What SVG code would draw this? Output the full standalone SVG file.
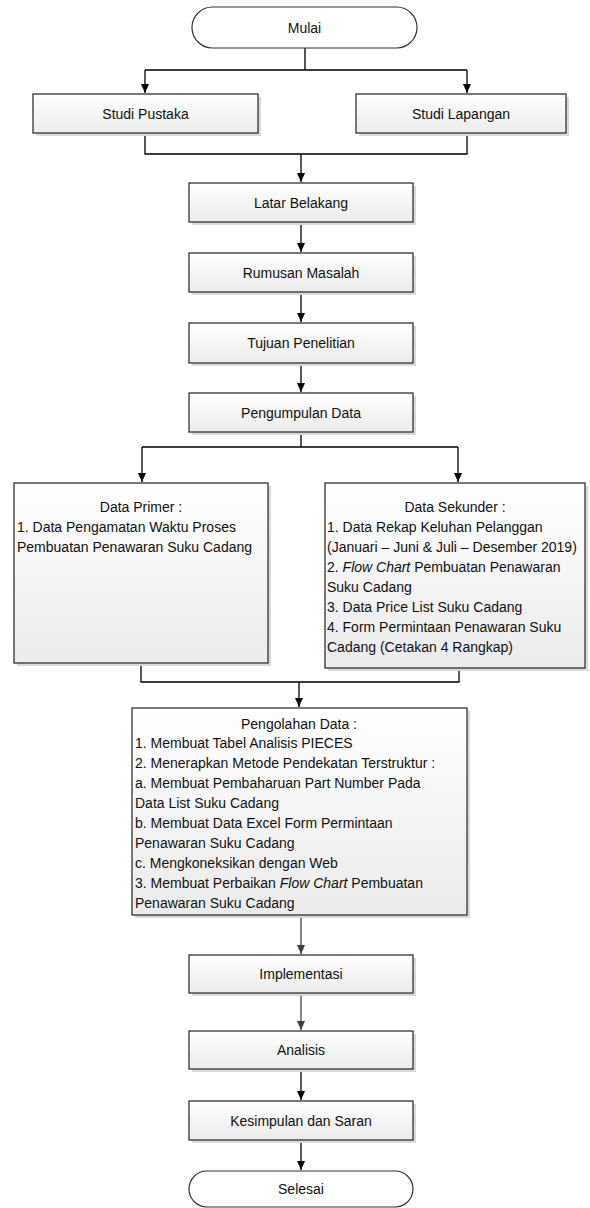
<svg xmlns="http://www.w3.org/2000/svg" width="590" height="1208" viewBox="0 0 590 1208">
<defs>
<linearGradient id="g" x1="0" y1="0" x2="0" y2="1">
<stop offset="0" stop-color="#ffffff"/>
<stop offset="1" stop-color="#ebebeb"/>
</linearGradient>
<marker id="a" markerWidth="10" markerHeight="10" refX="9" refY="5" orient="auto" markerUnits="userSpaceOnUse">
<path d="M0,1 L9,5 L0,9 Z" fill="#000"/>
</marker>
<marker id="ag" markerWidth="10" markerHeight="10" refX="9" refY="5" orient="auto" markerUnits="userSpaceOnUse">
<path d="M0,1 L9,5 L0,9 Z" fill="#404040"/>
</marker>
</defs>
<style>
.box{fill:url(#g);stroke:#333;stroke-width:1.3}
.sh{fill:#d9d9d9}
.term{fill:#fff;stroke:#333;stroke-width:1.2}
.c{fill:none;stroke:#000;stroke-width:1.3}
.cg{fill:none;stroke:#404040;stroke-width:1.3}
text{font-family:"Liberation Sans",Arial,sans-serif;font-size:14px;fill:#111}
.m{text-anchor:middle}
</style>
<g id="connectors">
<path class="c" d="M305,48 V70 M145,70 H467"/>
<path class="c" d="M145,70 V93" marker-end="url(#a)"/>
<path class="c" d="M467,70 V93" marker-end="url(#a)"/>
<path class="c" d="M145,133 V154 H467 V133"/>
<path class="c" d="M301,154 V182" marker-end="url(#a)"/>
<path class="c" d="M301,222 V252" marker-end="url(#a)"/>
<path class="c" d="M301,292 V322" marker-end="url(#a)"/>
<path class="c" d="M301,363 V392" marker-end="url(#a)"/>
<path class="c" d="M301,432 V447 M142,447 H458"/>
<path class="c" d="M142,447 V482" marker-end="url(#a)"/>
<path class="c" d="M458,447 V482" marker-end="url(#a)"/>
<path class="c" d="M141,663 V682 H459 V668"/>
<path class="c" d="M299,682 V707" marker-end="url(#a)"/>
<path class="cg" d="M301,915 V954" marker-end="url(#ag)"/>
<path class="cg" d="M301,993 V1030" marker-end="url(#ag)"/>
<path class="c" d="M301,1069 V1100" marker-end="url(#a)"/>
<path class="c" d="M301,1140 V1170" marker-end="url(#a)"/>
</g>
<g id="mulai">
<rect class="term" x="192" y="7" width="225" height="41" rx="20.5"/>
<text class="m" x="304.5" y="33">Mulai</text>
</g>
<g id="studi-pustaka">
<rect class="sh" x="36" y="97" width="225" height="39"/>
<rect class="box" x="33" y="94" width="225" height="39"/>
<text class="m" x="145.5" y="118.5">Studi Pustaka</text>
</g>
<g id="studi-lapangan">
<rect class="sh" x="359" y="97" width="210" height="39"/>
<rect class="box" x="356" y="94" width="210" height="39"/>
<text class="m" x="461" y="118.5">Studi Lapangan</text>
</g>
<g id="latar-belakang">
<rect class="sh" x="192" y="186" width="224" height="39"/>
<rect class="box" x="189" y="183" width="224" height="39"/>
<text class="m" x="301" y="207.5">Latar Belakang</text>
</g>
<g id="rumusan-masalah">
<rect class="sh" x="192" y="256" width="224" height="39"/>
<rect class="box" x="189" y="253" width="224" height="39"/>
<text class="m" x="301" y="277.5">Rumusan Masalah</text>
</g>
<g id="tujuan-penelitian">
<rect class="sh" x="192" y="326" width="224" height="40"/>
<rect class="box" x="189" y="323" width="224" height="40"/>
<text class="m" x="301" y="348">Tujuan Penelitian</text>
</g>
<g id="pengumpulan-data">
<rect class="sh" x="192" y="396" width="224" height="39"/>
<rect class="box" x="189" y="393" width="224" height="39"/>
<text class="m" x="301" y="417.5">Pengumpulan Data</text>
</g>
<g id="data-primer">
<rect class="sh" x="17" y="486" width="254" height="180"/>
<rect class="box" x="14" y="483" width="254" height="180"/>
<text class="m" x="141" y="512">Data Primer :</text>
<text x="17" y="532">1. Data Pengamatan Waktu Proses</text>
<text x="17" y="552">Pembuatan Penawaran Suku Cadang</text>
</g>
<g id="data-sekunder">
<rect class="sh" x="328" y="486" width="260" height="185"/>
<rect class="box" x="325" y="483" width="260" height="185"/>
<text class="m" x="455" y="512">Data Sekunder :</text>
<text x="327" y="532">1. Data Rekap Keluhan Pelanggan</text>
<text x="327" y="552">(Januari – Juni &amp; Juli – Desember 2019)</text>
<text x="327" y="572">2. <tspan font-style="italic">Flow Chart</tspan> Pembuatan Penawaran</text>
<text x="327" y="592">Suku Cadang</text>
<text x="327" y="612">3. Data Price List Suku Cadang</text>
<text x="327" y="632">4. Form Permintaan Penawaran Suku</text>
<text x="327" y="652">Cadang (Cetakan 4 Rangkap)</text>
</g>
<g id="pengolahan-data">
<rect class="sh" x="135" y="711" width="335" height="207"/>
<rect class="box" x="132" y="708" width="335" height="207"/>
<text class="m" x="299" y="729">Pengolahan Data :</text>
<text x="135" y="748">1. Membuat Tabel Analisis PIECES</text>
<text x="135" y="768">2. Menerapkan Metode Pendekatan Terstruktur :</text>
<text x="135" y="788">a. Membuat Pembaharuan Part Number Pada</text>
<text x="135" y="808">Data List Suku Cadang</text>
<text x="135" y="828">b. Membuat Data Excel Form Permintaan</text>
<text x="135" y="848">Penawaran Suku Cadang</text>
<text x="135" y="868">c. Mengkoneksikan dengan Web</text>
<text x="135" y="888">3. Membuat Perbaikan <tspan font-style="italic">Flow Chart</tspan> Pembuatan</text>
<text x="135" y="908">Penawaran Suku Cadang</text>
</g>
<g id="implementasi">
<rect class="sh" x="192" y="958" width="224" height="38"/>
<rect class="box" x="189" y="955" width="224" height="38"/>
<text class="m" x="301" y="979">Implementasi</text>
</g>
<g id="analisis">
<rect class="sh" x="192" y="1034" width="224" height="38"/>
<rect class="box" x="189" y="1031" width="224" height="38"/>
<text class="m" x="301" y="1055">Analisis</text>
</g>
<g id="kesimpulan">
<rect class="sh" x="192" y="1104" width="224" height="39"/>
<rect class="box" x="189" y="1101" width="224" height="39"/>
<text class="m" x="301" y="1125.5">Kesimpulan dan Saran</text>
</g>
<g id="selesai">
<rect class="term" x="189" y="1171" width="224" height="36" rx="18"/>
<text class="m" x="301" y="1194">Selesai</text>
</g>
</svg>
